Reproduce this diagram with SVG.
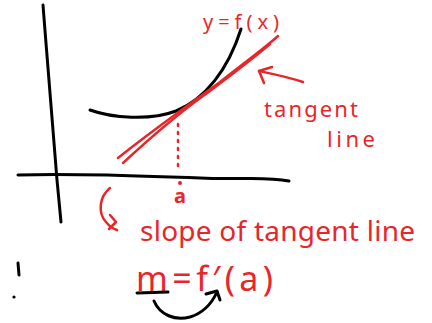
<svg xmlns="http://www.w3.org/2000/svg" width="432" height="323" viewBox="0 0 432 323">
<style>
.k{fill:none;stroke:#000;stroke-width:3;stroke-linecap:round;stroke-linejoin:round}
.r{fill:none;stroke:#e8262a;stroke-width:2.5;stroke-linecap:round;stroke-linejoin:round}
.t{fill:#e8262a;font-family:"Noto Sans","Liberation Sans",sans-serif}
</style>
<rect width="432" height="323" fill="#fff"/>
<g id="axes">
<path class="k" d="M43,5 C48,70 54,140 57,180 C59,200 60,212 61,222"/>
<path class="k" d="M18,175 C80,173 140,176 200,178 C240,180 265,176 289,181"/>
</g>
<g id="curve">
<path class="k" d="M90,110 C112,118 150,121 176,111 C205,99 228,70 241,29"/>
</g>
<g id="tangent">
<path class="r" d="M118,158 C150,132 190,104 220,82 C245,62 265,48 278,36"/>
<path class="r" d="M123,163 C150,138 180,112 210,91 C235,72 255,57 270,44"/>
<path class="r" d="M178,124 L178,172" stroke-dasharray="2 6"/>
<circle cx="180" cy="183" r="2" fill="#e8262a"/>
</g>
<g id="labels">
<text class="t" x="203" y="29" font-size="20" textLength="76" lengthAdjust="spacing">y=f(x)</text>
<text class="t" x="264" y="117" font-size="22" textLength="94" lengthAdjust="spacing">tangent</text>
<text class="t" x="327" y="147" font-size="22" textLength="48" lengthAdjust="spacing">line</text>
<text class="t" x="174" y="203" font-size="20" font-weight="bold">a</text>
<text class="t" x="140" y="241" font-size="28" textLength="275" lengthAdjust="spacing">slope of tangent line</text>
<text class="t" x="136" y="291" font-size="34" textLength="137" lengthAdjust="spacing">m=f′(a)</text>
</g>
<g id="connectors">
<path class="r" d="M303,82 C288,77 273,74 259,71"/>
<path class="r" d="M272,67 L259,71 L264,83"/>
<path class="r" d="M110,188 C100,196 97,212 106,222 C110,227 114,229 117,230"/>
<path class="r" d="M110,215 L116,222 L109,229"/>
<path class="k" d="M137,293 L168,292"/>
<path class="k" d="M154,301 C160,315 175,321 190,317 C203,313 212,303 217,292"/>
<path class="k" d="M206,294 L217,291 L220,300"/>
<path class="k" d="M18,263 L19,275"/>
<circle cx="14" cy="297" r="1.6" fill="#000"/>
</g>
</svg>
